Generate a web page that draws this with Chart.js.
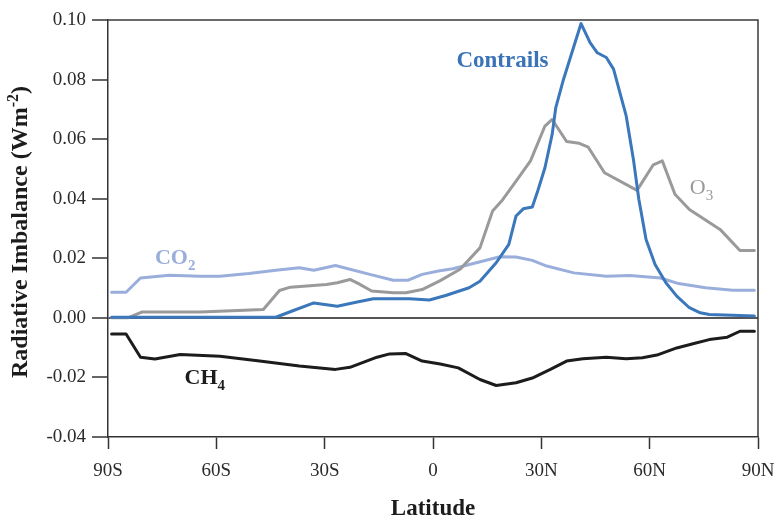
<!DOCTYPE html>
<html>
<head>
<meta charset="utf-8">
<script src="https://cdn.jsdelivr.net/npm/chart.js@4.4.1/dist/chart.umd.min.js"></script>
<style>
  html, body { margin: 0; padding: 0; background: #fff; }
  #wrap { width: 778px; height: 518px; position: relative; }
</style>
</head>
<body>
<div id="wrap"><canvas id="chart"></canvas></div>
<script>
// values (latitude in degrees, S negative)
const contrailsLat = [-89, -43.5, -39, -33, -26.5, -21, -16.5, -6.5, -1, 3.5, 10, 13, 17.5, 21, 23, 25, 27.5, 29, 31, 33, 34, 36, 41, 43.5, 45.5, 48, 50, 52, 53.5, 55.5, 57, 59, 61.5, 64.5, 67.5, 71, 74, 76.5, 89];
const contrailsVal = [0.0002, 0.0002, 0.0023, 0.0050, 0.0039, 0.0053, 0.0064, 0.0064, 0.0060, 0.0075, 0.0101, 0.0123, 0.0185, 0.0247, 0.0342, 0.0366, 0.0372, 0.0426, 0.0504, 0.0616, 0.0706, 0.0795, 0.0988, 0.0924, 0.0890, 0.0874, 0.0835, 0.0745, 0.0678, 0.0532, 0.0398, 0.0263, 0.0179, 0.0118, 0.0073, 0.0034, 0.0017, 0.0011, 0.0006];

const o3Lat = [-89, -84.5, -80.5, -64.5, -47, -42.5, -39.5, -29.5, -26.5, -23, -20.5, -17, -11, -7.5, -3, 2, 7.5, 13, 16.5, 19, 23, 27, 31, 33, 37, 40.5, 43, 47.5, 56.5, 61, 63.5, 67, 71, 79.5, 85, 89];
const o3Val = [0, 0, 0.0020, 0.0020, 0.0028, 0.0092, 0.0103, 0.0112, 0.0118, 0.0129, 0.0114, 0.0090, 0.0084, 0.0084, 0.0095, 0.0125, 0.0163, 0.0235, 0.0359, 0.0392, 0.0459, 0.0527, 0.0644, 0.0666, 0.0592, 0.0586, 0.0573, 0.0487, 0.0428, 0.0514, 0.0527, 0.0415, 0.0364, 0.0297, 0.0226, 0.0226];

const co2Lat = [-89, -85, -81, -73, -64.5, -59, -51, -43.5, -37, -33, -27, -17.5, -11, -7, -3, 1.5, 5.5, 12, 18.5, 23, 27.5, 31.5, 39, 48, 54.5, 63, 68, 75.5, 83, 89];
const co2Val = [0.0086, 0.0086, 0.0134, 0.0143, 0.0140, 0.0140, 0.0149, 0.0160, 0.0168, 0.0160, 0.0176, 0.0146, 0.0126, 0.0126, 0.0146, 0.0157, 0.0165, 0.0185, 0.0205, 0.0204, 0.0193, 0.0174, 0.0151, 0.0140, 0.0142, 0.0134, 0.0115, 0.0101, 0.0093, 0.0093];

const ch4Lat = [-89, -85, -81, -77, -70, -59, -48, -37, -27, -23, -15.5, -12, -7.5, -3, 2, 7, 13, 17.5, 23, 27.5, 32.5, 37, 41.5, 48, 53.5, 58, 62, 67.5, 72, 76.5, 81.5, 85, 89];
const ch4Val = [-0.0054, -0.0054, -0.0132, -0.0138, -0.0123, -0.0129, -0.0145, -0.0162, -0.0173, -0.0166, -0.0132, -0.0121, -0.0120, -0.0145, -0.0155, -0.0168, -0.0207, -0.0227, -0.0218, -0.0202, -0.0173, -0.0145, -0.0137, -0.0132, -0.0137, -0.0134, -0.0125, -0.0101, -0.0087, -0.0073, -0.0065, -0.0045, -0.0045];

const latTicks = [-90, -60, -30, 0, 30, 60, 90];
const latTickLabels = ['90S', '60S', '30S', '0', '30N', '60N', '90N'];
const imbalanceTicks = [-0.04, -0.02, 0, 0.02, 0.04, 0.06, 0.08, 0.10];

const SERIF = '"Liberation Serif", "Times New Roman", serif';

const toPoints = (lats, vals) => lats.map((lat, i) => ({ x: lat, y: vals[i] }));

// text with sub/superscripts: parts = [[text, 0 normal | 1 sub | 2 sup], ...]
function drawRich(ctx, parts, x, y, size, weight, color, align) {
  const fontFor = k => `${weight} ${k ? Math.round(size * 0.68) : size}px ${SERIF}`;
  let total = 0;
  const widths = parts.map(([t, k]) => {
    ctx.font = fontFor(k);
    const w = ctx.measureText(t).width;
    total += w;
    return w;
  });
  let cx = align === 'center' ? x - total / 2 : x;
  ctx.fillStyle = color;
  ctx.textBaseline = 'alphabetic';
  ctx.textAlign = 'left';
  parts.forEach(([t, k], i) => {
    ctx.font = fontFor(k);
    const dy = k === 1 ? size * 0.27 : k === 2 ? -size * 0.38 : 0;
    ctx.fillText(t, cx, y + dy);
    cx += widths[i];
  });
}

const framePlugin = {
  id: 'frame',
  beforeDatasetsDraw(chart) {
    const { ctx, chartArea: a } = chart;
    ctx.save();
    ctx.strokeStyle = '#3a3a3a';
    ctx.lineWidth = 1.5;
    ctx.beginPath();
    ctx.moveTo(a.left, a.top);
    ctx.lineTo(a.right, a.top);
    ctx.lineTo(a.right, a.bottom);
    ctx.stroke();
    ctx.restore();
  },
  afterDraw(chart) {
    const { ctx, scales: { x, y } } = chart;
    ctx.save();
    drawRich(ctx, [['Contrails', 0]], x.getPixelForValue(6.5), y.getPixelForValue(0.0842), 23, 'bold', '#3a74b7', 'left');
    drawRich(ctx, [['O', 0], ['3', 1]], x.getPixelForValue(71.1), y.getPixelForValue(0.0417), 22, 'normal', '#9a9a9a', 'left');
    drawRich(ctx, [['CO', 0], ['2', 1]], x.getPixelForValue(-77), y.getPixelForValue(0.0181), 22, 'bold', '#9aaedc', 'left');
    drawRich(ctx, [['CH', 0], ['4', 1]], x.getPixelForValue(-68.8), y.getPixelForValue(-0.0222), 22, 'bold', '#1c1c1c', 'left');

    // axis titles
    drawRich(ctx, [['Latitude', 0]], 433, 515, 23, 'bold', '#1c1c1c', 'center');
    ctx.translate(27, 232);
    ctx.rotate(-Math.PI / 2);
    drawRich(ctx, [['Radiative Imbalance (Wm', 0], ['-2', 2], [')', 0]], 0, 0, 24, 'bold', '#1c1c1c', 'center');
    ctx.restore();
  }
};

new Chart(document.getElementById('chart'), {
  type: 'line',
  data: {
    datasets: [
      { label: 'Contrails', data: toPoints(contrailsLat, contrailsVal), borderColor: '#3b77bb', borderWidth: 3 },
      { label: 'O3', data: toPoints(o3Lat, o3Val), borderColor: '#9a9a9a', borderWidth: 3 },
      { label: 'CO2', data: toPoints(co2Lat, co2Val), borderColor: '#9aaedc', borderWidth: 3 },
      { label: 'CH4', data: toPoints(ch4Lat, ch4Val), borderColor: '#1c1c1c', borderWidth: 3 },
    ],
  },
  options: {
    responsive: true,
    maintainAspectRatio: false,
    animation: false,
    events: [],
    layout: { padding: { top: 20, right: 20, left: 0, bottom: 0 } },
    elements: { point: { radius: 0 }, line: { tension: 0, borderJoinStyle: 'round', borderCapStyle: 'round' } },
    plugins: { legend: { display: false }, tooltip: { enabled: false } },
    scales: {
      x: {
        type: 'linear',
        min: -90,
        max: 90,
        afterFit: s => { s.height = 81; s.paddingLeft = 0; s.paddingRight = 0; },
        afterBuildTicks: s => { s.ticks = latTicks.map(v => ({ value: v })); },
        ticks: {
          callback: v => latTickLabels[latTicks.indexOf(v)],
          font: { family: SERIF, size: 19 },
          color: '#2a2a2a',
          padding: 11,
          maxRotation: 0,
        },
        grid: { drawOnChartArea: false, tickLength: 12, tickColor: '#333', tickWidth: 1.5 },
        border: { color: '#333', width: 1.5 },
      },
      y: {
        min: -0.04,
        max: 0.10,
        afterFit: s => { s.width = 108; s.paddingTop = 0; s.paddingBottom = 0; },
        afterBuildTicks: s => { s.ticks = imbalanceTicks.map(v => ({ value: v })); },
        ticks: {
          callback: v => v.toFixed(2),
          font: { family: SERIF, size: 19 },
          color: '#2a2a2a',
          padding: 6,
        },
        grid: {
          color: c => (c.tick && c.tick.value === 0 ? '#555' : 'rgba(0,0,0,0)'),
          lineWidth: 2,
          tickLength: 16,
          tickColor: '#333',
          tickWidth: 1.5,
        },
        border: { color: '#333', width: 1.5 },
      },
    },
  },
  plugins: [framePlugin],
});
</script>
</body>
</html>
